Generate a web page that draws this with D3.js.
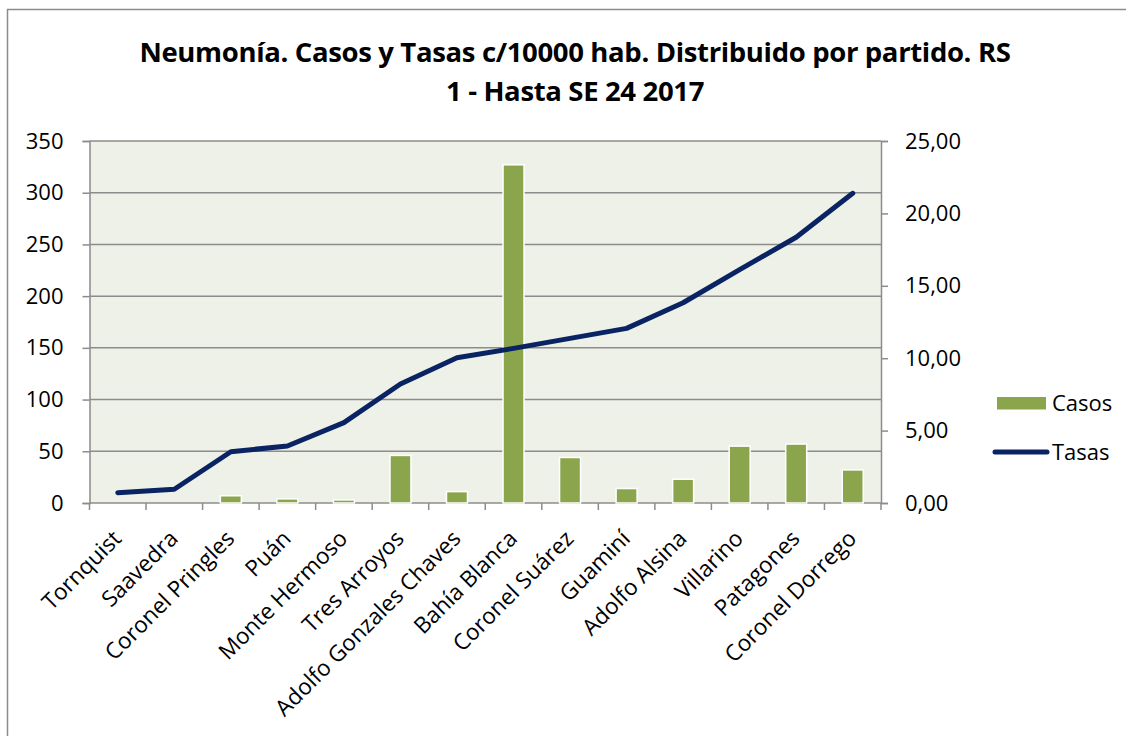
<!DOCTYPE html>
<html><head><meta charset="utf-8">
<script src="https://cdn.jsdelivr.net/npm/d3@7"></script>
<style>
body{margin:0;background:#fff;}
text{font-family:"Open Sans","Noto Sans",sans-serif;fill:#000;}
</style></head>
<body><svg id="c" width="1126" height="736"></svg>
<script>
const categories = ["Tornquist","Saavedra","Coronel Pringles","Puán","Monte Hermoso","Tres Arroyos","Adolfo Gonzales Chaves","Bahía Blanca","Coronel Suárez","Guaminí","Adolfo Alsina","Villarino","Patagones","Coronel Dorrego"];
const casos = [0,0,7,4,3,46,11,327,44,14,23,55,57,32];
const tasas = [0.71,0.95,3.54,3.94,5.55,8.22,10.03,10.68,11.37,12.06,13.83,16.12,18.35,21.39];
const leftTicks = [0,50,100,150,200,250,300,350];
const rightTicks = [0,5,10,15,20,25];
const titleLines = ["Neumonía. Casos y Tasas c/10000 hab. Distribuido por partido. RS","1 - Hasta SE 24 2017"];
const seriesNames = ["Casos","Tasas"];

const svg = d3.select("#c");
const L = 89.5, R = 881, T = 141, B = 503;
const x = d3.scaleBand().domain(categories).range([L,R]).paddingInner(0).paddingOuter(0);
const yL = d3.scaleLinear().domain([0,350]).range([B,T]);
const yR = d3.scaleLinear().domain([0,25]).range([B,T]);
const FS = 22;

// outer border
svg.append("rect").attr("x",7.5).attr("y",9.5).attr("width",1130).attr("height",740)
  .attr("fill","none").attr("stroke","#8c8c8c").attr("stroke-width",1.5);

// title
svg.append("g").selectAll("text").data(titleLines).join("text")
  .attr("x",575).attr("y",(d,i)=>62+i*39).attr("text-anchor","middle")
  .attr("font-size",27.5).attr("font-weight","bold").attr("letter-spacing","-0.35")
  .text(d=>d);

// plot bg
svg.append("rect").attr("x",L).attr("y",T).attr("width",R-L).attr("height",B-T).attr("fill","#eef1e8");

// gridlines
svg.append("g").selectAll("line").data(leftTicks.slice(1)).join("line")
  .attr("x1",L).attr("x2",R).attr("y1",d=>yL(d)).attr("y2",d=>yL(d))
  .attr("stroke","#8c8c8c").attr("stroke-width",1.5);

// left axis
const gl = svg.append("g").attr("transform",`translate(${L},0)`)
  .call(d3.axisLeft(yL).tickValues(leftTicks).tickSize(7).tickPadding(19).tickFormat(d3.format("d")));
gl.select(".domain").attr("stroke","#8c8c8c").attr("stroke-width",1.5);
gl.selectAll(".tick line").attr("stroke","#8c8c8c").attr("stroke-width",1.5);
gl.selectAll("text").attr("font-size",FS).style("font-family",'"Open Sans",sans-serif');

// right axis
const fmt = d=>d3.format(".2f")(d).replace(".",",");
const gr = svg.append("g").attr("transform",`translate(${R},0)`)
  .call(d3.axisRight(yR).tickValues(rightTicks).tickSize(7).tickPadding(17).tickFormat(fmt));
gr.select(".domain").attr("stroke","#8c8c8c").attr("stroke-width",1.5);
gr.selectAll(".tick line").attr("stroke","#8c8c8c").attr("stroke-width",1.5);
gr.selectAll("text").attr("font-size",FS).style("font-family",'"Open Sans",sans-serif');

// bottom axis
const ticksX = categories.map((c,i)=>L+i*x.bandwidth()).concat([R]);
svg.append("line").attr("x1",L).attr("x2",R).attr("y1",B).attr("y2",B).attr("stroke","#8c8c8c").attr("stroke-width",1.5);
svg.append("g").selectAll("line").data(ticksX).join("line")
  .attr("x1",d=>d).attr("x2",d=>d).attr("y1",B).attr("y2",B+7)
  .attr("stroke","#8c8c8c").attr("stroke-width",1.5);

// bars
const bw = 21;
svg.append("g").selectAll("rect").data(casos).join("rect")
  .attr("x",(d,i)=>x(categories[i])+x.bandwidth()/2-bw/2)
  .attr("y",d=>yL(d)).attr("width",bw).attr("height",d=>B-yL(d))
  .attr("fill","#8aa54c").attr("stroke","#fff").attr("stroke-width",1.5);

// line
const line = d3.line().x((d,i)=>x(categories[i])+x.bandwidth()/2).y(d=>yR(d));
svg.append("path").datum(tasas).attr("d",line).attr("fill","none")
  .attr("stroke","#0a2463").attr("stroke-width",5).attr("stroke-linecap","round").attr("stroke-linejoin","round");

// x labels
svg.append("g").selectAll("text").data(categories).join("text")
  .attr("transform",(d,i)=>`translate(${x(d)+x.bandwidth()/2+5},${B+37}) rotate(-45)`)
  .attr("text-anchor","end").attr("font-size",22.5).text(d=>d);

// legend
svg.append("rect").attr("x",997).attr("y",397).attr("width",49).attr("height",12.5).attr("fill","#8aa54c");
svg.append("line").attr("x1",995).attr("x2",1047).attr("y1",452).attr("y2",452)
  .attr("stroke","#0a2463").attr("stroke-width",5).attr("stroke-linecap","round");
svg.append("g").selectAll("text").data(seriesNames).join("text")
  .attr("x",1052).attr("y",(d,i)=>411+i*48.5).attr("font-size",FS).text(d=>d);
</script></body></html>
